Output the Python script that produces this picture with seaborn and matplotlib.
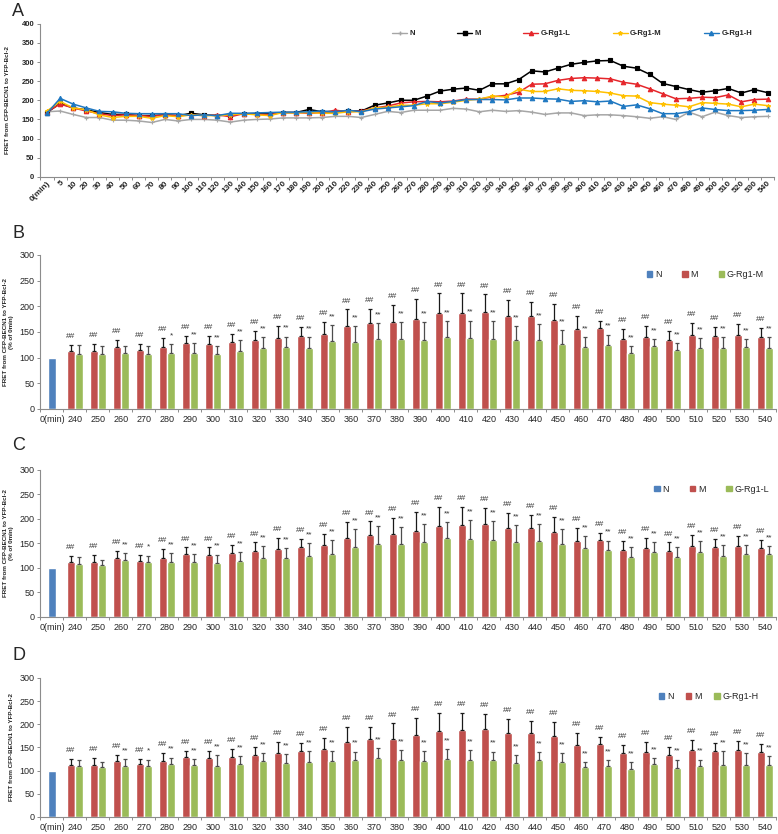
import matplotlib
matplotlib.use("Agg")
import matplotlib.pyplot as plt
import numpy as np
import pandas as pd
import seaborn as sns
from matplotlib.lines import Line2D
from matplotlib.patches import Patch
from matplotlib.ticker import FixedLocator

# ---- panel A: FRET time course ----
times_a = ["0(min)", "5"] + [str(t) for t in range(10, 550, 10)]
groups_a = ["N", "M", "G-Rg1-L", "G-Rg1-M", "G-Rg1-H"]

fret_n = [170, 172, 163, 155, 155, 148, 148, 146, 142, 150,
          146, 150, 150, 148, 143, 148, 150, 151, 154, 154,
          154, 155, 158, 158, 155, 163, 171, 168, 174, 174,
          174, 179, 177, 170, 174, 171, 173, 169, 163, 167,
          167, 160, 162, 162, 160, 157, 153, 157, 150, 169,
          157, 169, 160, 155, 157, 158]
fret_m = [168, 192, 180, 175, 168, 163, 163, 160, 160, 162,
          160, 166, 162, 160, 162, 165, 165, 165, 168, 168,
          176, 170, 170, 172, 172, 187, 193, 200, 200, 211,
          224, 229, 232, 226, 243, 243, 254, 277, 274, 284,
          294, 299, 303, 304, 289, 284, 268, 244, 236, 228,
          221, 225, 231, 219, 228, 220]
fret_l = [170, 190, 180, 172, 165, 160, 162, 160, 158, 162,
          160, 162, 160, 162, 157, 165, 163, 163, 168, 168,
          166, 168, 174, 170, 172, 180, 185, 193, 196, 197,
          196, 198, 203, 203, 209, 213, 221, 242, 243, 252,
          257, 259, 258, 256, 247, 242, 230, 217, 204, 205,
          208, 207, 214, 196, 202, 203]
fret_gm = [172, 197, 180, 175, 162, 155, 158, 158, 153, 160,
           157, 162, 160, 160, 162, 165, 162, 160, 168, 167,
           168, 166, 166, 170, 170, 180, 182, 187, 187, 191,
           191, 195, 200, 203, 211, 209, 229, 223, 223, 230,
           226, 225, 223, 219, 212, 211, 194, 190, 187, 183,
           194, 192, 190, 183, 190, 186]
fret_h = [166, 205, 190, 180, 171, 170, 166, 165, 165, 165,
          165, 160, 162, 160, 166, 166, 167, 168, 169, 169,
          170, 172, 170, 174, 170, 177, 180, 183, 186, 197,
          193, 197, 202, 202, 202, 201, 206, 206, 204, 203,
          197, 199, 196, 198, 184, 188, 178, 165, 165, 170,
          180, 176, 173, 173, 174, 176]

# ---- panels B-D: % of 0 min ----
times_b = ["0(min)"] + [str(t) for t in range(240, 550, 10)]
base_n = [100]
m_mean = [112, 112, 120, 115, 121, 129, 127, 130, 134, 139, 142, 147, 162, 168, 169, 176,
          186, 187, 189, 181, 182, 174, 156, 157, 137, 140, 134, 144, 142, 145, 140]
m_sd = [13, 15, 14, 11, 17, 13, 15, 17, 18, 23, 18, 23, 32, 27, 33, 38,
        39, 38, 34, 31, 26, 31, 25, 15, 19, 22, 18, 23, 18, 20, 18]
gm_mean = [108, 107, 110, 107, 110, 110, 108, 112, 119, 121, 118, 132, 131, 136, 136, 135,
           141, 138, 136, 134, 135, 127, 121, 125, 110, 123, 114, 119, 118, 121, 118]
gm_sd = [17, 16, 13, 16, 16, 18, 15, 22, 21, 20, 22, 32, 30, 31, 33, 34,
         30, 34, 35, 28, 31, 26, 19, 20, 13, 13, 15, 19, 22, 15, 22]
gl_mean = [108, 106, 116, 113, 113, 112, 111, 115, 120, 120, 124, 129, 143, 149, 149, 153,
           162, 160, 158, 153, 155, 149, 140, 136, 123, 132, 123, 133, 125, 128, 129]
gl_sd = [14, 10, 14, 12, 17, 16, 16, 17, 25, 21, 26, 28, 36, 36, 34, 36,
         32, 38, 38, 35, 35, 31, 25, 20, 19, 20, 19, 22, 21, 18, 16]
gh_mean = [109, 107, 111, 111, 114, 112, 111, 115, 121, 117, 119, 120, 122, 127, 123, 120,
           126, 122, 124, 116, 122, 119, 108, 111, 104, 114, 106, 110, 112, 112, 112]
gh_sd = [15, 12, 14, 13, 14, 13, 22, 17, 16, 18, 23, 22, 19, 21, 22, 22,
         21, 22, 17, 18, 18, 18, 11, 12, 15, 13, 18, 14, 30, 25, 20]

m_marks = ["##"] * 31
gm_marks = ["", "", "", "", "*"] + ["**"] * 26
gl_marks = ["", "", "**", "*"] + ["**"] * 27
gh_marks = ["", "", "**", "*"] + ["**"] * 27

colors_a = ["#A6A6A6", "#000000", "#E5262B", "#FFC000", "#1F78C1"]
markers_a = ["+", "s", "^", "*", "^"]
c_n, c_m, c_g = "#4F81BD", "#C0504D", "#9BBB59"

sns.set_theme(style="ticks")
plt.rcParams["font.family"] = ["Liberation Sans", "DejaVu Sans"]

fig = plt.figure(figsize=(7.78, 8.34), dpi=100)


def style_axis(ax, n, ymax, step, tick_size, bold):
    sns.despine(ax=ax)
    for side in ["left", "bottom"]:
        ax.spines[side].set_color("#8C8C8C")
        ax.spines[side].set_linewidth(0.8)
    ax.set_xlim(-0.5, n - 0.5)
    ax.set_ylim(0, ymax)
    ax.set_yticks(np.arange(0, ymax + 1, step))
    ax.xaxis.set_minor_locator(FixedLocator(np.arange(-0.5, n, 1)))
    ax.tick_params(axis="x", which="major", length=0, pad=4)
    ax.tick_params(axis="x", which="minor", length=2.5, color="#8C8C8C", width=0.7)
    ax.tick_params(axis="y", length=2.5, color="#8C8C8C", width=0.7, pad=2)
    weight = "bold" if bold else "normal"
    for lab in ax.get_yticklabels():
        lab.set_fontsize(tick_size)
        lab.set_fontweight(weight)
    ax.set_xlabel("")


# ---- panel A ----
df_a = pd.DataFrame({
    "time": times_a * len(groups_a),
    "value": fret_n + fret_m + fret_l + fret_gm + fret_h,
    "group": np.repeat(groups_a, len(times_a)),
})
ax_a = fig.add_axes([0.052, 0.788, 0.943, 0.1835])
sns.pointplot(data=df_a, x="time", y="value", hue="group", order=times_a,
              hue_order=groups_a, palette=colors_a, markers=markers_a,
              linestyles="-", errorbar=None, legend=False, ax=ax_a,
              markersize=3.2, linewidth=1.1)
style_axis(ax_a, len(times_a), 400, 50, 5.5, True)
ax_a.set_xticks(range(len(times_a)))
ax_a.set_xticklabels(times_a, rotation=45, ha="right", rotation_mode="anchor",
                     fontsize=6, fontweight="bold")
ax_a.tick_params(axis="x", which="major", pad=2)
ax_a.set_ylabel("FRET from CFP-BECN1 to YFP-Bcl-2", fontsize=4.5, fontweight="bold")
ax_a.yaxis.set_label_coords(-0.042, 0.5)
handles_a = [Line2D([], [], color=c, marker=mk, markersize=3, linewidth=1)
             for c, mk in zip(colors_a, markers_a)]
ax_a.legend(handles_a, groups_a, ncol=5, frameon=False, loc="upper left",
            bbox_to_anchor=(0.474, 0.985), handlelength=2.0,
            handletextpad=0.3, columnspacing=5.5, borderpad=0,
            prop={"weight": "bold", "size": 5.5})
fig.text(0.016, 0.986, "A", fontsize=13, va="center", ha="left")


# ---- panels B-D ----
def bar_panel(rect, treat_mean, treat_sd, treat_name, treat_marks, letter,
              letter_y, ylabel, leg_x, leg_space):
    ax = fig.add_axes(rect)
    df_n = pd.DataFrame({"time": times_b[:1], "value": base_n})
    sns.barplot(data=df_n, x="time", y="value", order=times_b, color=c_n,
                width=0.36, errorbar=None, saturation=1, ax=ax)
    df = pd.DataFrame({
        "time": times_b[1:] * 2,
        "value": m_mean + treat_mean,
        "group": ["M"] * len(m_mean) + [treat_name] * len(treat_mean),
    })
    sns.barplot(data=df, x="time", y="value", hue="group", order=times_b,
                hue_order=["M", treat_name], palette=[c_m, c_g], width=0.72,
                gap=0, errorbar=None, saturation=1, legend=False, ax=ax)

    for cont, means, sds, marks, ecol in [
        (ax.containers[-2], m_mean, m_sd, m_marks, "#1A1A1A"),
        (ax.containers[-1], treat_mean, treat_sd, treat_marks, "#4D4D4D"),
    ]:
        xs = sorted(p.get_x() + p.get_width() / 2 for p in cont if p.get_height() > 0)
        ax.errorbar(xs, means, yerr=[np.zeros(len(sds)), sds], fmt="none",
                    ecolor=ecol, elinewidth=0.9, capsize=1.6, capthick=0.9, zorder=3)
        for x, mval, s, lbl in zip(xs, means, sds, marks):
            if lbl:
                ax.annotate(lbl, (x, mval + s), xytext=(0, 3.5),
                            textcoords="offset points", ha="center", va="bottom",
                            fontsize=6, color="#333333")

    style_axis(ax, len(times_b), 300, 50, 6.5, False)
    ax.set_xticks(range(len(times_b)))
    ax.set_xticklabels(times_b, fontsize=6.5)
    ax.set_ylabel(ylabel, fontsize=4.5, fontweight="bold", linespacing=1.3)
    ax.yaxis.set_label_coords(-0.036, 0.5)
    handles = [Patch(color=c) for c in [c_n, c_m, c_g]]
    ax.legend(handles, ["N", "M", treat_name], ncol=3, frameon=False,
              loc="upper left", bbox_to_anchor=(leg_x, 0.93), fontsize=6.5,
              handlelength=0.6, handleheight=0.6, handletextpad=0.3,
              columnspacing=leg_space, borderpad=0)
    fig.text(0.016, letter_y, letter, fontsize=13, va="center", ha="left")
    return ax


label_two = "FRET from CFP-BECN1 to YFP-Bcl-2\n(% of 0min)"
bar_panel([0.052, 0.5096, 0.946, 0.1847], gm_mean, gm_sd, "G-Rg1-M", gm_marks,
          "B", 1 - 233 / 834, label_two, 0.818, 2.3)
bar_panel([0.052, 0.2602, 0.946, 0.1763], gl_mean, gl_sd, "G-Rg1-L", gl_marks,
          "C", 1 - 445 / 834, label_two, 0.828, 2.3)
bar_panel([0.052, 0.0204, 0.946, 0.1667], gh_mean, gh_sd, "G-Rg1-H", gh_marks,
          "D", 1 - 656 / 834, "FRET from CFP-BECN1 to YFP-Bcl-2", 0.834, 1.4)

fig.savefig("out.png", dpi=100)
